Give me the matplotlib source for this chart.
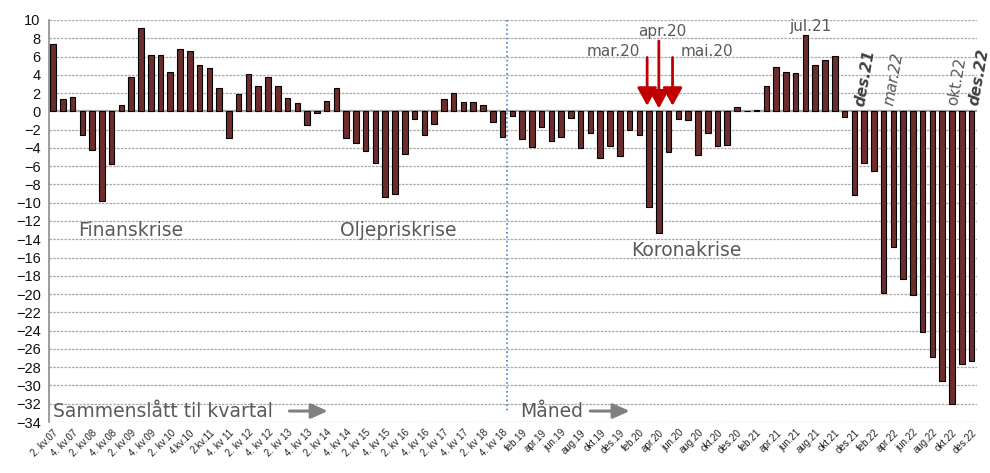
"""
Endring i boligtrend: kvartal 2007-2018, deretter måned 2019-2022.
"""

import matplotlib.pyplot as plt

# Kvartalsverdier (2. kv.07 - 4. kv 18)
quarter_values = [
    7.4, 1.4, 1.6, -2.6, -4.2, -9.8, -5.8, 0.7, 3.8, 9.1,
    6.2, 6.2, 4.3, 6.8, 6.6, 5.1, 4.7, 2.5, -2.9, 1.9,
    4.1, 2.8, 3.8, 2.8, 1.5, 0.9, -1.5, -0.2, 1.1, 2.5,
    -2.9, -3.5, -4.3, -5.7, -9.4, -9.0, -4.7, -0.8, -2.6, -1.35,
    1.3, 2.0, 1.0, 1.0, 0.7, -1.2, -2.8,
]

# Månedsverdier (jan.19 - des.22)
month_values = [
    -0.5, -3.0, -3.9, -1.7, -3.3, -2.8, -0.7, -4.0, -2.4, -5.1, -3.8, -4.9,
    -2.0, -2.6, -10.5, -13.3, -4.5, -0.8, -1.0, -4.8, -2.4, -3.8, -3.7, 0.5,
    0.0, 0.2, 2.8, 4.85, 4.3, 4.2, 8.4, 5.1, 5.6, 6.1, -0.6, -9.2,
    -5.6, -6.5, -19.9, -14.9, -18.4, -20.05, -24.2, -26.9, -29.5, -32.0, -27.7, -27.3,
]

quarter_labels = [
    "2. kv.07", "4. kv.07", "2. kv.08", "4. kv.08", "2. kv.09", "4. kv.09",
    "2. kv.10", "4.kv.10", "2.kv.11", "4. kv 11", "2. kv 12", "4. kv 12",
    "2. kv 13", "4. kv 13", "2. kv 14", "4. kv 14", "2. kv 15", "4. kv 15",
    "2. kv 16", "4. kv 16", "2. kv 17", "4. kv 17", "2. kv 18", "4. kv 18",
]
month_labels = [
    "feb.19", "apr.19", "jun.19", "aug.19", "okt.19", "des.19",
    "feb.20", "apr.20", "jun.20", "aug.20", "okt.20", "des.20",
    "feb.21", "apr.21", "jun.21", "aug.21", "okt.21", "des.21",
    "feb.22", "apr.22", "jun.22", "aug.22", "okt.22", "des.22",
]

values = quarter_values + month_values
n_q = len(quarter_values)
x = list(range(len(values)))

BAR = "#6e2d2d"
TXT = "#595959"

fig = plt.figure(figsize=(9.9, 4.73), dpi=100)
ax = fig.add_axes([0.0495, 0.1078, 0.9375, 0.85])

ax.bar(x, values, width=0.57, color=BAR, edgecolor="black", linewidth=0.8, zorder=3)

ax.set_xlim(-0.41, 94.57)
ax.set_ylim(-34, 10)
ax.set_yticks(range(-34, 11, 2))
for v in range(-34, 11, 2):
    if v != 0:
        ax.axhline(v, color="#a8a8a8", linestyle=(0, (2, 1)), linewidth=0.9, zorder=1)
ax.axhline(0, color="#a6a6a6", linewidth=1.6, zorder=2)

tick_pos = list(range(0, n_q, 2)) + list(range(n_q + 1, len(values), 2))
ax.set_xticks(tick_pos)
ax.set_xticklabels(quarter_labels + month_labels, rotation=45, ha="right",
                   rotation_mode="anchor", fontsize=7, family="Liberation Sans")
ax.tick_params(axis="x", length=0, pad=4, colors="#222222")
ax.tick_params(axis="y", length=0, pad=6, labelsize=10.5, colors="#111111")
for t in ax.get_yticklabels():
    t.set_family("Liberation Sans")

for side in ["top", "right", "bottom"]:
    ax.spines[side].set_visible(False)
ax.spines["left"].set_color("#8c8c8c")
ax.spines["left"].set_linewidth(1.2)

# Skille mellom kvartal og måned
ax.plot([n_q - 0.5, n_q - 0.5], [10, -33], color="#4a7fc1", linestyle=":",
        linewidth=1.2, zorder=2)

# Periodetekster
ax.text(2.56, -13.0, "Finanskrise", fontsize=13.5, color=TXT, va="center")
ax.text(29.4, -13.0, "Oljepriskrise", fontsize=13.5, color=TXT, va="center")
ax.text(59.2, -15.2, "Koronakrise", fontsize=13.5, color=TXT, va="center")
ax.text(0.0, -32.8, "Sammenslått til kvartal", fontsize=13.5, color=TXT, va="center")
ax.text(47.8, -32.8, "Måned", fontsize=13.5, color=TXT, va="center")
arrow_grey = dict(arrowstyle="-|>,head_length=1.0,head_width=0.45",
                  color="#808080", lw=2.2)
ax.annotate("", xy=(28.4, -32.8), xytext=(23.9, -32.8), arrowprops=arrow_grey)
ax.annotate("", xy=(59.3, -32.8), xytext=(54.7, -32.8), arrowprops=arrow_grey)

# Røde piler for mars-mai 2020
arrow_red = dict(arrowstyle="-|>,head_length=1.1,head_width=0.6",
                 color="#c00000", lw=2)
ax.annotate("", xy=(60.8, 0.3), xytext=(60.8, 6.2), arrowprops=arrow_red)
ax.annotate("", xy=(62.0, 0.0), xytext=(62.0, 8.0), arrowprops=arrow_red)
ax.annotate("", xy=(63.4, 0.3), xytext=(63.4, 6.2), arrowprops=arrow_red)
ax.text(60.1, 6.6, "mar.20", fontsize=11, color=TXT, ha="right", va="center")
ax.text(62.3, 8.7, "apr.20", fontsize=11, color=TXT, ha="center", va="center")
ax.text(64.2, 6.6, "mai.20", fontsize=11, color=TXT, ha="left", va="center")
ax.text(77.5, 9.3, "jul.21", fontsize=11, color=TXT, ha="center", va="center")

# Skrå etiketter
ax.text(83.1, 0.45, "des.21", fontsize=11, color="#404040", rotation=80,
        ha="center", va="bottom", fontweight="bold", fontstyle="italic")
ax.text(86.0, 0.55, "mar.22", fontsize=11, color=TXT, rotation=80,
        ha="center", va="bottom", fontstyle="italic")
ax.text(92.5, 0.55, "okt.22", fontsize=11, color=TXT, rotation=80,
        ha="center", va="bottom")
ax.text(94.8, 0.55, "des.22", fontsize=11, color="#404040", rotation=80,
        ha="center", va="bottom", fontweight="bold", fontstyle="italic")

fig.savefig("out.png", dpi=100)
